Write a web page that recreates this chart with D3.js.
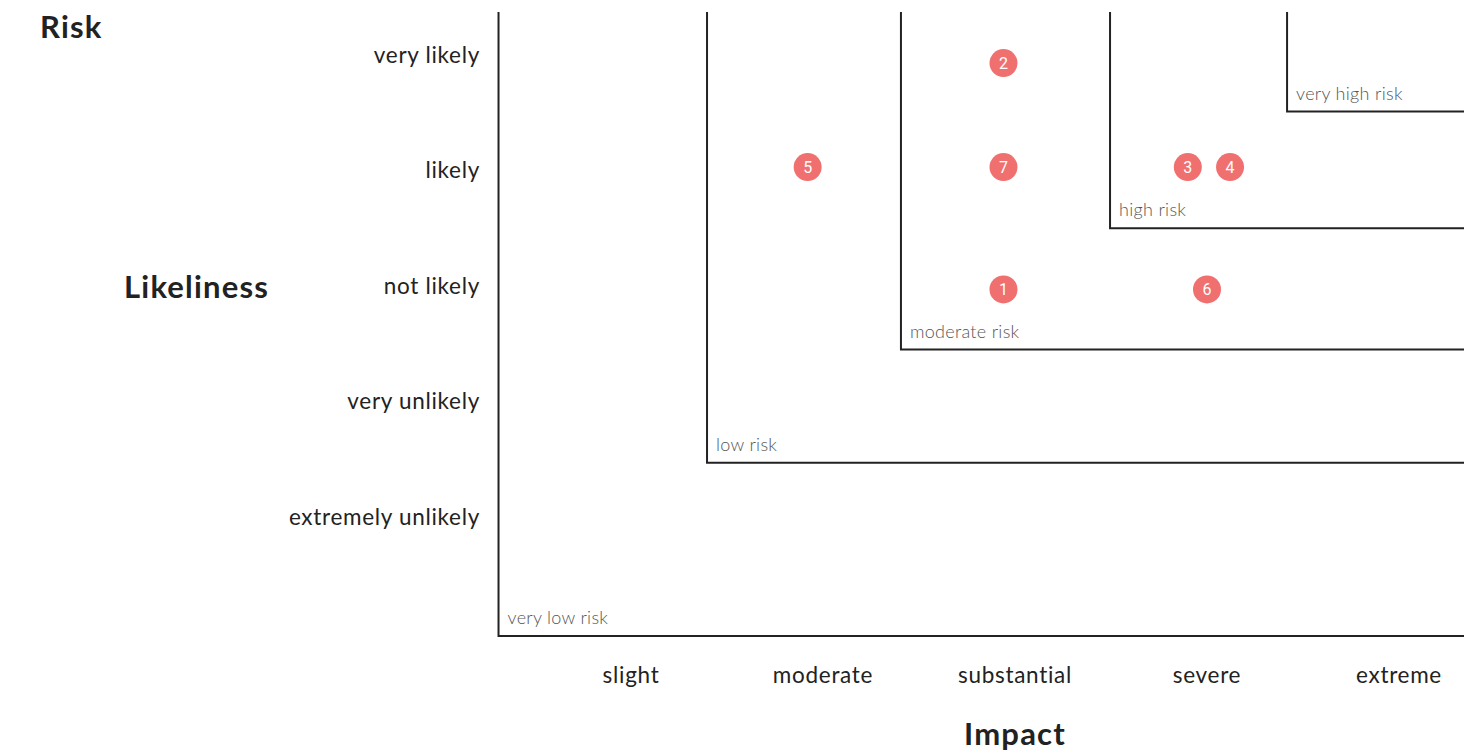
<!DOCTYPE html>
<html>
<head>
<meta charset="utf-8">
<script src="https://cdn.jsdelivr.net/npm/d3@7"></script>
<style>
  body { margin: 0; background: #fff; }
  svg { display: block; font-family: Lato, "Noto Sans", sans-serif; }
</style>
</head>
<body>
<div id="chart"></div>
<script>
(function(d3) {
  'use strict';

  var impactLabels = ['slight', 'moderate', 'substantial', 'severe', 'extreme'];
  var likelyLabels = ['extremely unlikely', 'very unlikely', 'not likely', 'likely', 'very likely'];

  // risk zones: corner in impact / likeliness units
  var zoneNames = ['very low risk', 'low risk', 'moderate risk', 'high risk', 'very high risk'];
  var zoneImpact = [-0.69, 0.396, 1.406, 2.495, 3.417];
  var zoneLikely = [-1.03, 0.47, 1.45, 2.5, 3.51];

  // risks
  var riskIds = [1, 2, 3, 4, 5, 6, 7];
  var riskImpact = [1.94, 1.94, 2.9, 3.12, 0.92, 3.0, 1.94];
  var riskLikely = [1.97, 3.93, 3.03, 3.03, 3.03, 1.97, 3.03];

  var width = 1464;
  var height = 755;

  var x = d3.scaleLinear().domain([0, 1]).range([631, 823]);
  var y = d3.scaleLinear().domain([0, 1]).range([517, 401.5]);
  var yTop = 12;

  var svg = d3.select('#chart')
    .append('svg')
    .attr('width', width)
    .attr('height', height);

  // zones
  var zones = svg.selectAll('.zone')
    .data(zoneNames)
    .enter()
    .append('g')
    .attr('class', 'zone');

  zones.append('path')
    .attr('d', function(d, i) {
      var zx = x(zoneImpact[i]), zy = y(zoneLikely[i]);
      return 'M' + zx + ',' + yTop + 'V' + zy + 'H' + (width + 10);
    })
    .attr('fill', 'none')
    .attr('stroke', '#222')
    .attr('stroke-width', 2);

  zones.append('text')
    .attr('x', function(d, i) { return x(zoneImpact[i]) + 9; })
    .attr('y', function(d, i) { return y(zoneLikely[i]) - 12; })
    .attr('font-size', 18)
    .attr('font-weight', 300)
    .attr('letter-spacing', 0.3)
    .attr('fill', '#555')
    .text(function(d) { return d; });

  // y tick labels
  svg.selectAll('.ylab')
    .data(likelyLabels)
    .enter()
    .append('text')
    .attr('class', 'ylab')
    .attr('x', 480)
    .attr('y', function(d, i) { return y(i); })
    .attr('dy', '0.35em')
    .attr('text-anchor', 'end')
    .attr('font-size', 22.5)
    .attr('letter-spacing', 0.7)
    .attr('fill', '#222')
    .text(function(d) { return d; });

  // x tick labels
  svg.selectAll('.xlab')
    .data(impactLabels)
    .enter()
    .append('text')
    .attr('class', 'xlab')
    .attr('x', function(d, i) { return x(i); })
    .attr('y', 675)
    .attr('dy', '0.35em')
    .attr('text-anchor', 'middle')
    .attr('font-size', 22.5)
    .attr('letter-spacing', 0.7)
    .attr('fill', '#222')
    .text(function(d) { return d; });

  // titles
  svg.append('text')
    .attr('x', 40).attr('y', 27).attr('dy', '0.35em')
    .attr('font-size', 31).attr('font-weight', 700).attr('letter-spacing', 1.2).attr('fill', '#222')
    .text('Risk');
  svg.append('text')
    .attr('x', 124).attr('y', 287).attr('dy', '0.35em')
    .attr('font-size', 31).attr('font-weight', 700).attr('letter-spacing', 1.2).attr('fill', '#222')
    .text('Likeliness');
  svg.append('text')
    .attr('x', x(2)).attr('y', 734).attr('dy', '0.35em')
    .attr('text-anchor', 'middle')
    .attr('font-size', 31).attr('font-weight', 700).attr('letter-spacing', 1.2).attr('fill', '#222')
    .text('Impact');

  // risk points
  var pts = svg.selectAll('.risk')
    .data(riskIds)
    .enter()
    .append('g')
    .attr('class', 'risk')
    .attr('transform', function(d, i) {
      return 'translate(' + x(riskImpact[i]) + ',' + y(riskLikely[i]) + ')';
    });

  pts.append('circle')
    .attr('r', 14)
    .attr('fill', '#f07070');

  pts.append('text')
    .attr('dy', '0.36em')
    .attr('text-anchor', 'middle')
    .attr('font-family', 'Roboto, sans-serif')
    .attr('font-size', 16)
    .attr('fill', '#fff')
    .text(function(d) { return d; });

})(window.d3);
</script>
</body>
</html>
